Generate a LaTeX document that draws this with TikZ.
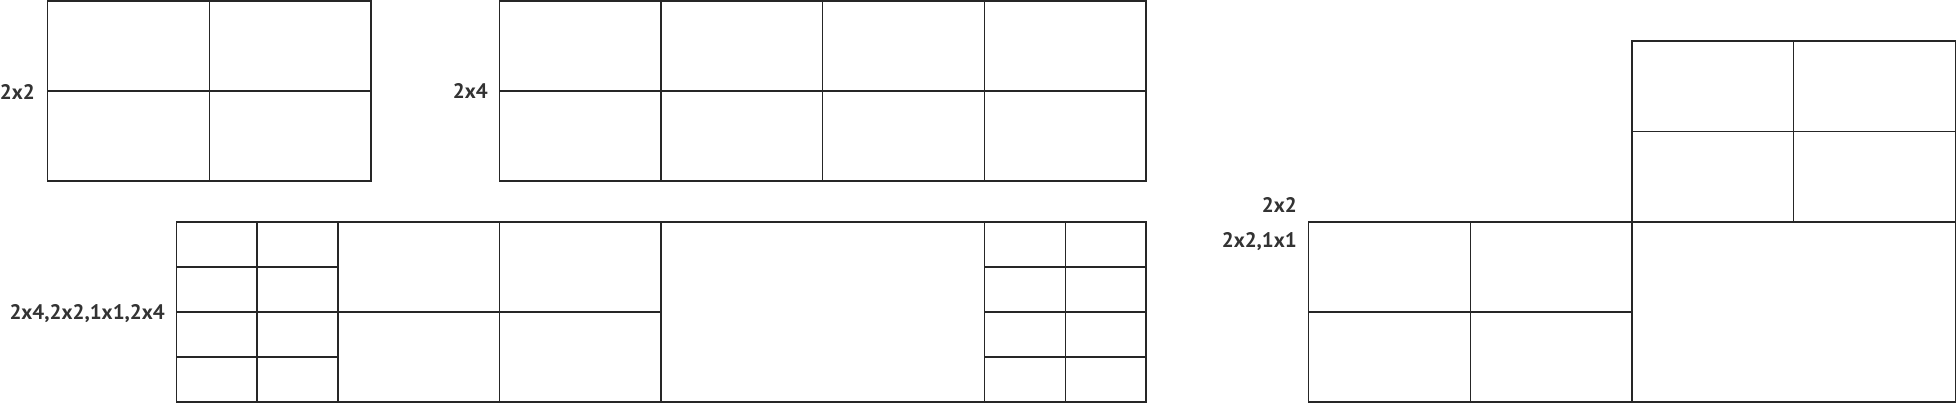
\documentclass[tikz,border=0pt]{standalone}
\usepackage{fontspec}
\setmainfont{PT Sans}
\usetikzlibrary{positioning}

\begin{document}
\begin{tikzpicture}[x=1pt,y=-1pt,
		grid line/.style={draw=black!85,line width=1.3pt},
		size label/.style={anchor=base east,inner sep=0pt,text=black!80,font=\bfseries\fontsize{21}{21}\selectfont}]
		\useasboundingbox (0,0) rectangle (1958,404);
		% 2x2
		\node [size label](lab22) at (35,99.3) {2x2};
		\draw [grid line] (47.5,1) rectangle (371,181);
		\draw [grid line] (209.2,1) -- (209.2,181);
		\draw [grid line] (47.5,91) -- (371,91);
		% 2x4
		\node [size label](lab24) at (488,98.8) {2x4};
		\draw [grid line] (499.5,1) rectangle (1146,181);
		\foreach \x in {661.1,822.7,984.3} \draw [grid line] (\x,1) -- (\x,181);
		\draw [grid line] (499.5,91) -- (1146,91);
		% 2x4,2x2,1x1,2x4
		\node [size label](labmix) at (165,319.5) {2x4,2x2,1x1,2x4};
		\draw [grid line] (176.3,222) rectangle (1146,402);
		\foreach \x in {257.1,337.9,499.5,661.1,984.3,1065.2} \draw [grid line] (\x,222) -- (\x,402);
		\foreach \y in {267,312,357} {
			\draw [grid line] (176.3,\y) -- (337.9,\y);
			\draw [grid line] (984.3,\y) -- (1146,\y);
		}
		\draw [grid line] (337.9,312) -- (661.1,312);
		% 2x2 over 2x2,1x1
		\node [size label](labtop) at (1297,212) {2x2};
		\node [size label](labbot) at (1297,247.3) {2x2,1x1};
		\draw [grid line] (1632,41) rectangle (1955.5,222);
		\draw [grid line] (1793.7,41) -- (1793.7,222);
		\draw [grid line] (1632,131.5) -- (1955.5,131.5);
		\draw [grid line] (1308.6,222) rectangle (1955.5,402);
		\draw [grid line] (1632,222) -- (1632,402);
		\draw [grid line] (1470.3,222) -- (1470.3,402);
		\draw [grid line] (1308.6,312) -- (1632,312);
\end{tikzpicture}
\end{document}
